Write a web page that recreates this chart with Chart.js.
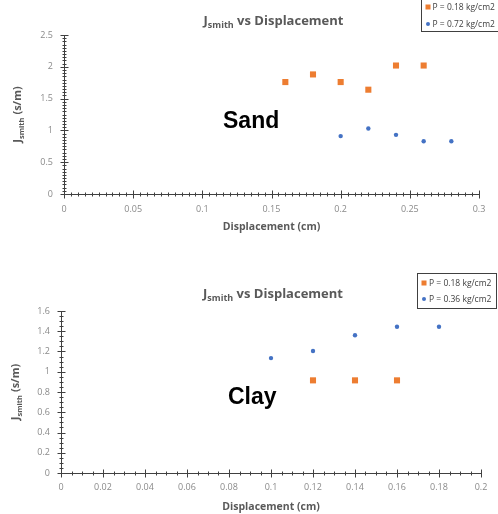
<!DOCTYPE html>
<html><head><meta charset="utf-8">
<script src="https://cdn.jsdelivr.net/npm/chart.js@4"></script>
<style>
html,body{margin:0;padding:0;background:#fff;width:498px;height:514px;overflow:hidden}
.box{position:absolute;left:0;width:498px}
#b1{top:0;height:240px}
#b2{top:256px;height:258px}
canvas{display:block}
</style></head><body>
<div class="box" id="b1"><canvas id="c1" width="498" height="240"></canvas></div>
<div class="box" id="b2"><canvas id="c2" width="498" height="258"></canvas></div>
<script>
// ---- data ----
const sandX018 = [0.16, 0.18, 0.20, 0.22, 0.24, 0.26];
const sandJ018 = [1.76, 1.88, 1.76, 1.64, 2.02, 2.02];
const sandX072 = [0.20, 0.22, 0.24, 0.26, 0.28];
const sandJ072 = [0.91, 1.03, 0.93, 0.83, 0.83];
const clayX018 = [0.12, 0.14, 0.16];
const clayJ018 = [0.915, 0.915, 0.915];
const clayX036 = [0.10, 0.12, 0.14, 0.16, 0.18];
const clayJ036 = [1.135, 1.205, 1.36, 1.445, 1.445];
const sandSeries = ['P = 0.18 kg/cm2', 'P = 0.72 kg/cm2'];
const claySeries = ['P = 0.18 kg/cm2', 'P = 0.36 kg/cm2'];
const xTitle = 'Displacement (cm)';
const titleMain = 'J', titleSub = 'smith', titleRest = ' vs Displacement';
const yTitleRest = ' (s/m)';

const ORANGE = '#ED7D31', BLUE = '#4472C4';
const AXIS = '#404040', TXT = '#595959', TICK = '#8a8a8a';
const FONT = "'Open Sans', 'DejaVu Sans', sans-serif";

function pts(xs, ys) { return xs.map((x, i) => ({x: x, y: ys[i]})); }
function fmt(v) { return String(Number(Number(v).toFixed(4))); }

function drawSubText(ctx, x, y, main, sub, rest, size, subSize, align) {
  ctx.font = 'bold ' + size + 'px ' + FONT;
  const w1 = ctx.measureText(main).width;
  const w3 = ctx.measureText(rest).width;
  ctx.font = 'bold ' + subSize + 'px ' + FONT;
  const w2 = ctx.measureText(sub).width;
  const total = w1 + w2 + w3;
  let sx = align === 'center' ? x - total / 2 : x;
  ctx.textAlign = 'left';
  ctx.textBaseline = 'alphabetic';
  ctx.font = 'bold ' + size + 'px ' + FONT;
  ctx.fillText(main, sx, y);
  ctx.font = 'bold ' + subSize + 'px ' + FONT;
  ctx.fillText(sub, sx + w1, y + size * 0.25);
  ctx.font = 'bold ' + size + 'px ' + FONT;
  ctx.fillText(rest, sx + w1 + w2, y);
}

function makeChart(id, cfg) {
  const deco = {
    id: 'deco' + id,
    afterDraw(chart) {
      const ctx = chart.ctx, xs = chart.scales.x, ys = chart.scales.y, ca = chart.chartArea;
      ctx.save();
      ctx.strokeStyle = AXIS; ctx.lineWidth = 1;
      // x ticks
      const bY = Math.round(ca.bottom) + 0.5;
      const nx = Math.round((cfg.xMax - cfg.xMin) / cfg.xMinor);
      ctx.beginPath();
      for (let i = 0; i <= nx; i++) {
        const v = cfg.xMin + i * cfg.xMinor;
        const r = v / cfg.xStep, major = Math.abs(r - Math.round(r)) < 1e-6;
        const px = Math.round(xs.getPixelForValue(v)) + 0.5;
        const l = major ? 4 : 2;
        ctx.moveTo(px, bY - l); ctx.lineTo(px, bY + l);
      }
      // y ticks
      const lX = Math.round(ca.left) + 0.5;
      const ny = Math.round((cfg.yMax - cfg.yMin) / cfg.yMinor);
      for (let i = 0; i <= ny; i++) {
        const v = cfg.yMin + i * cfg.yMinor;
        const r = v / cfg.yStep, major = Math.abs(r - Math.round(r)) < 1e-6;
        const py = Math.round(ys.getPixelForValue(v)) + 0.5;
        const l = major ? 4 : 2;
        ctx.moveTo(lX - l, py); ctx.lineTo(lX + l, py);
      }
      ctx.stroke();

      // chart title
      ctx.fillStyle = TXT;
      drawSubText(ctx, (ca.left + ca.right) / 2 + 2, cfg.titleY, titleMain, titleSub, titleRest, 13, 9, 'center');

      // y axis title (rotated)
      ctx.save();
      ctx.translate(cfg.yTitleX, (ca.top + ca.bottom) / 2 + cfg.yTitleDy);
      ctx.rotate(-Math.PI / 2);
      drawSubText(ctx, 0, 0, titleMain, titleSub, yTitleRest, 11, 7.5, 'center');
      ctx.restore();

      // legend
      const L = cfg.legend;
      ctx.fillStyle = '#fff';
      ctx.fillRect(L.x, L.y, L.w, L.h);
      ctx.strokeStyle = AXIS;
      ctx.strokeRect(L.x + 0.5, L.y + 0.5, L.w, L.h);
      ctx.font = '8.5px ' + FONT;
      ctx.textBaseline = 'middle';
      ctx.textAlign = 'left';
      chart.data.datasets.forEach((ds, i) => {
        const ry = L.rows[i];
        ctx.fillStyle = ds.backgroundColor;
        if (ds.pointStyle === 'rect') {
          ctx.fillRect(L.mx - 2.5, ry - 2.5, 5, 5);
        } else {
          ctx.beginPath(); ctx.arc(L.mx, ry, 2, 0, Math.PI * 2); ctx.fill();
        }
        ctx.fillStyle = '#404040';
        ctx.fillText(ds.label, L.tx, ry + 0.5);
      });

      // soil label
      ctx.fillStyle = '#000';
      ctx.font = "bold 23px 'Liberation Sans', Arial, sans-serif";
      ctx.textBaseline = 'alphabetic';
      ctx.textAlign = 'left';
      ctx.fillText(cfg.soil, cfg.soilX, cfg.soilY);
      ctx.restore();
    }
  };

  return new Chart(document.getElementById(id), {
    type: 'scatter',
    data: {
      datasets: [
        {label: cfg.labels[0], data: pts(cfg.x1, cfg.y1), pointStyle: 'rect', pointRadius: 4.3,
         backgroundColor: ORANGE, borderColor: ORANGE, borderWidth: 0},
        {label: cfg.labels[1], data: pts(cfg.x2, cfg.y2), pointStyle: 'circle', pointRadius: 2.2,
         backgroundColor: BLUE, borderColor: BLUE, borderWidth: 0}
      ]
    },
    options: {
      responsive: false, animation: false, events: [],
      layout: {padding: {top: cfg.padTop, right: cfg.padRight, left: 0, bottom: 0}},
      plugins: {legend: {display: false}, title: {display: false}, tooltip: {enabled: false}},
      scales: {
        x: {
          type: 'linear', min: cfg.xMin, max: cfg.xMax,
          afterFit(s) { s.height = cfg.xAxisH; },
          ticks: {stepSize: cfg.xStep, autoSkip: false, maxRotation: 0, padding: cfg.xTickPad,
                  color: TICK, font: {family: FONT, size: 9}, callback: fmt},
          grid: {drawOnChartArea: false, drawTicks: false, color: AXIS},
          border: {display: true, color: AXIS, width: 1},
          title: {display: true, text: xTitle, color: TXT, font: {family: FONT, size: 10.5, weight: 'bold'},
                  padding: {top: 0, bottom: cfg.xTitlePad}}
        },
        y: {
          type: 'linear', min: cfg.yMin, max: cfg.yMax,
          afterFit(s) { s.width = cfg.yAxisW; },
          ticks: {stepSize: cfg.yStep, autoSkip: false, padding: 11,
                  color: TICK, font: {family: FONT, size: 9}, callback: fmt},
          grid: {drawOnChartArea: false, drawTicks: false, color: AXIS},
          border: {display: true, color: AXIS, width: 1}
        }
      }
    },
    plugins: [deco]
  });
}

makeChart('c1', {
  x1: sandX018, y1: sandJ018, x2: sandX072, y2: sandJ072, labels: sandSeries,
  xMin: 0, xMax: 0.3, xStep: 0.05, xMinor: 0.005,
  yMin: 0, yMax: 2.5, yStep: 0.5, yMinor: 0.05,
  padTop: 35, padRight: 19, xAxisH: 46, yAxisW: 64, xTickPad: 10, xTitlePad: 7,
  titleY: 25, yTitleX: 21, yTitleDy: 0,
  legend: {x: 421, y: -3, w: 90, h: 34, rows: [7, 24], mx: 428, tx: 432.5},
  soil: 'Sand', soilX: 223, soilY: 128
});

makeChart('c2', {
  x1: clayX018, y1: clayJ018, x2: clayX036, y2: clayJ036, labels: claySeries,
  xMin: 0, xMax: 0.2, xStep: 0.02, xMinor: 0.005,
  yMin: 0, yMax: 1.6, yStep: 0.2, yMinor: 0.05,
  padTop: 55, padRight: 17, xAxisH: 41, yAxisW: 61, xTickPad: 9, xTitlePad: 1,
  titleY: 42, yTitleX: 19, yTitleDy: 0,
  legend: {x: 417, y: 17, w: 79, h: 35, rows: [27, 43], mx: 424, tx: 429},
  soil: 'Clay', soilX: 228, soilY: 148
});
</script>
</body></html>
